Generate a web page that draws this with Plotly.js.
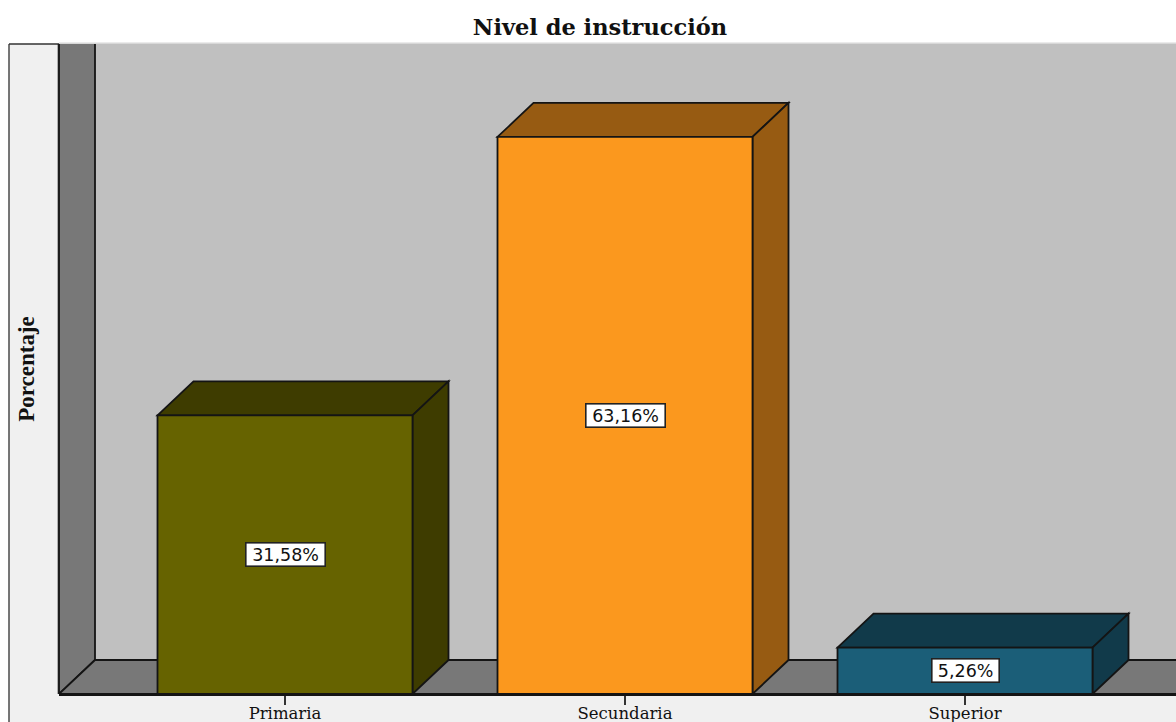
<!DOCTYPE html>
<html>
<head>
<meta charset="utf-8">
<script src="https://cdn.plot.ly/plotly-3.0.1.min.js"></script>
<style>html,body{margin:0;padding:0;background:#fff;overflow:hidden}</style>
</head>
<body>
<div id="chart" style="width:1176px;height:722px"></div>
<script>
const categories = ["Primaria", "Secundaria", "Superior"];
const values = [31.58, 63.16, 5.26];
const labels = ["31,58%", "63,16%", "5,26%"];
const labelWidths = [76, 76, 64];
const frontColors = ["#666300", "#fb981e", "#1b5e78"];
const sideColors = ["#3e3c00", "#975b12", "#113a4a"];
const chartTitle = "Nivel de instrucción";
const yTitle = "Porcentaje";

const W = 1176, H = 722, L = 59, T = 44, B = 28;
const pxPerUnitX = 340, pxPerUnitY = 8.82, center0 = 285, base = 694;
const xRange = [(L - center0) / pxPerUnitX, (W - center0) / pxPerUnitX];
const yRange = [0, (base - T) / pxPerUnitY];
const dx = 36 / pxPerUnitX, dy = 34 / pxPerUnitY;
const barW = 255 / pxPerUnitX;
const xs = categories.map((_, i) => i);
const pw = W - L, ph = H - T - B;

function poly(pts) {
  return "M" + pts.map(p => p[0] + "," + p[1]).join(" L") + " Z";
}
const edge = {color: "#141414", width: 1.8};
const none = {width: 0};
const shapes = [
  {type: "rect", xref: "paper", yref: "paper", layer: "below",
   x0: (9 - L) / pw, x1: 1.01, y0: -(B + 10) / ph, y1: 1,
   fillcolor: "#f0f0f0", line: none},
  {type: "line", xref: "paper", yref: "paper", layer: "below",
   x0: (9 - L) / pw, x1: (9 - L) / pw, y0: -(B + 10) / ph, y1: 1,
   line: {color: "#555555", width: 1.6}},
  {type: "line", xref: "paper", yref: "paper", layer: "below",
   x0: (9 - L) / pw, x1: 0, y0: 1, y1: 1,
   line: {color: "#333333", width: 1.6}},
  {type: "rect", xref: "x", yref: "y", layer: "below",
   x0: xRange[0], x1: xRange[1], y0: yRange[0], y1: yRange[1],
   fillcolor: "#c0c0c0", line: none},
  {type: "line", xref: "paper", yref: "paper", layer: "below",
   x0: 0, x1: 1, y0: 1.001, y1: 1.001,
   line: {color: "#d8d8d8", width: 1.5}},
  {type: "path", xref: "x", yref: "y", layer: "below", fillcolor: "#787878", line: edge,
   path: poly([[xRange[0], 0], [xRange[0], yRange[1] + 0.2], [xRange[0] + dx, yRange[1] + 0.2], [xRange[0] + dx, dy]])},
  {type: "path", xref: "x", yref: "y", layer: "below", fillcolor: "#787878", line: edge,
   path: poly([[xRange[0], 0], [xRange[0] + dx, dy], [xRange[1] + 0.02, dy], [xRange[1] + 0.02, 0]])},
  {type: "line", xref: "paper", yref: "paper", layer: "below",
   x0: 0, x1: 0, y0: 0, y1: 1,
   line: {color: "#1c1c1c", width: 2.6}}
];
xs.forEach((x, i) => {
  const l = x - barW / 2, r = x + barW / 2, v = values[i];
  shapes.push({type: "path", xref: "x", yref: "y", layer: "below", fillcolor: sideColors[i], line: edge,
    path: poly([[l, v], [l + dx, v + dy], [r + dx, v + dy], [r, v]])});
  shapes.push({type: "path", xref: "x", yref: "y", layer: "below", fillcolor: sideColors[i], line: edge,
    path: poly([[r, 0], [r, v], [r + dx, v + dy], [r + dx, dy]])});
});

const annotations = xs.map((x, i) => ({
  x: x, y: values[i] / 2, xref: "x", yref: "y", text: labels[i], showarrow: false,
  font: {family: "DejaVu Sans, sans-serif", size: 17.5, color: "#111"},
  width: labelWidths[i], height: 20, align: "center", valign: "middle",
  bgcolor: "#ffffff", bordercolor: "#222", borderwidth: 1.6, borderpad: 1
}));

Plotly.newPlot("chart", [{
  type: "bar", x: xs, y: values, width: barW,
  marker: {color: frontColors, line: edge},
  hoverinfo: "skip"
}], {
  width: W, height: H,
  margin: {l: L, r: 0, t: T, b: B, pad: 0},
  paper_bgcolor: "#ffffff", plot_bgcolor: "rgba(0,0,0,0)",
  showlegend: false,
  title: {text: "<b>" + chartTitle + "</b>", x: 600 / W, xanchor: "center", xref: "container",
          y: 1 - 27 / H, yanchor: "middle", yref: "container",
          font: {family: "DejaVu Serif, serif", size: 22.5, color: "#111"}},
  xaxis: {type: "linear", range: xRange, tickvals: xs, ticktext: categories,
          ticks: "outside", ticklen: 9, tickwidth: 1.8, tickcolor: "#333",
          ticklabelstandoff: -6,
          showgrid: false, zeroline: false, showline: true, linecolor: "#141414", linewidth: 1.8,
          tickfont: {family: "DejaVu Serif, serif", size: 16.5, color: "#111"}},
  yaxis: {range: yRange, showgrid: false, zeroline: false, showticklabels: false, ticks: "",
          showline: false, automargin: false,
          title: {text: "<b>" + yTitle + "</b>", standoff: 16,
                  font: {family: "Liberation Serif, serif", size: 23, color: "#111"}}},
  shapes: shapes,
  annotations: annotations
}, {displayModeBar: false, responsive: false});
</script>
</body>
</html>
